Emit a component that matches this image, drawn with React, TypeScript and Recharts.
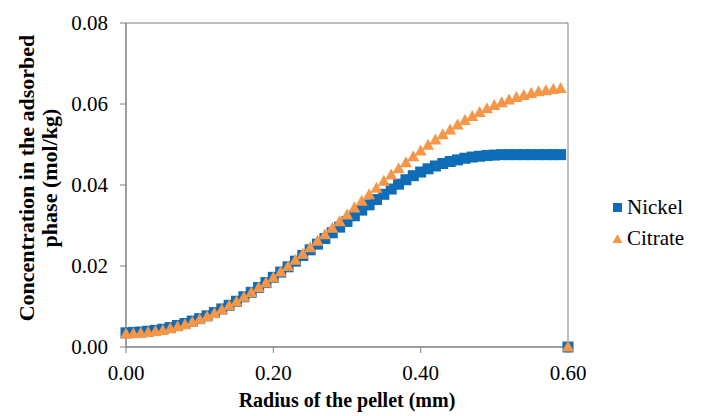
import React from 'react';
import {
  ScatterChart, Scatter, XAxis, YAxis, ReferenceArea
} from 'recharts';

// radius of the pellet (mm)
const radius = [
  0.00, 0.01, 0.02, 0.03, 0.04, 0.05, 0.06, 0.07, 0.08, 0.09,
  0.10, 0.11, 0.12, 0.13, 0.14, 0.15, 0.16, 0.17, 0.18, 0.19,
  0.20, 0.21, 0.22, 0.23, 0.24, 0.25, 0.26, 0.27, 0.28, 0.29,
  0.30, 0.31, 0.32, 0.33, 0.34, 0.35, 0.36, 0.37, 0.38, 0.39,
  0.40, 0.41, 0.42, 0.43, 0.44, 0.45, 0.46, 0.47, 0.48, 0.49,
  0.50, 0.51, 0.52, 0.53, 0.54, 0.55, 0.56, 0.57, 0.58, 0.59,
  0.60,
];

// concentration in the adsorbed phase (mol/kg)
const nickel = [
  0.0035, 0.0036, 0.0037, 0.0039, 0.0041, 0.0044, 0.0048, 0.0053, 0.0058, 0.0064,
  0.0070, 0.0077, 0.0085, 0.0094, 0.0103, 0.0113, 0.0124, 0.0135, 0.0147, 0.0159,
  0.0172, 0.0185, 0.0198, 0.0212, 0.0226, 0.0240, 0.0254, 0.0268, 0.0282, 0.0296,
  0.0310, 0.0324, 0.0338, 0.0351, 0.0364, 0.0377, 0.0390, 0.0402, 0.0413, 0.0423,
  0.0432, 0.0440, 0.0447, 0.0453, 0.0458, 0.0462, 0.0466, 0.0469, 0.0471, 0.0473,
  0.0474, 0.0475, 0.0475, 0.0475, 0.0475, 0.0475, 0.0475, 0.0475, 0.0475, 0.0475,
  0.0,
];

const citrate = [
  0.0032, 0.0033, 0.0034, 0.0036, 0.0038, 0.0041, 0.0045, 0.0050, 0.0055, 0.0061,
  0.0068, 0.0075, 0.0083, 0.0092, 0.0102, 0.0112, 0.0123, 0.0134, 0.0146, 0.0158,
  0.0171, 0.0185, 0.0199, 0.0214, 0.0229, 0.0245, 0.0261, 0.0277, 0.0293, 0.0309,
  0.0326, 0.0343, 0.0360, 0.0376, 0.0392, 0.0409, 0.0425, 0.0440, 0.0455, 0.0470,
  0.0484, 0.0498, 0.0511, 0.0524, 0.0536, 0.0548, 0.0559, 0.0569, 0.0579, 0.0588,
  0.0596, 0.0603, 0.0610, 0.0616, 0.0621, 0.0626, 0.0630, 0.0633, 0.0636, 0.0638,
  0.0,
];

const xTicks = [0, 0.2, 0.4, 0.6];
const yTicks = [0, 0.02, 0.04, 0.06, 0.08];

const BLUE = '#0F6DB8';
const ORANGE = '#F79646';
const AXIS = '#7f7f7f';
const FONT = '"Liberation Serif", "Times New Roman", serif';

const nickelData = radius.map((r, i) => ({ x: r, y: nickel[i] }));
const citrateData = radius.map((r, i) => ({ x: r, y: citrate[i] }));

const SquareMark = (props: any) => {
  const { cx, cy } = props;
  if (cx == null || cy == null) return null;
  return <rect x={cx - 5.5} y={cy - 5.5} width={11} height={11} fill={BLUE} />;
};

const TriangleMark = (props: any) => {
  const { cx, cy } = props;
  if (cx == null || cy == null) return null;
  return (
    <polygon
      points={`${cx},${cy - 6.5} ${cx + 6},${cy + 4.5} ${cx - 6},${cy + 4.5}`}
      fill={ORANGE}
    />
  );
};

// legend sits to the right of the plot, outside the chart's layout
const LegendBox = () => (
  <div
    style={{
      position: 'absolute', left: 612, top: 192,
      fontFamily: FONT, fontSize: 21, color: '#000', lineHeight: '31px',
    }}
  >
    <div style={{ display: 'flex', alignItems: 'center' }}>
      <svg width={12} height={12} style={{ marginRight: 3 }}>
        <rect x={1} y={1} width={9} height={9} fill={BLUE} />
      </svg>
      Nickel
    </div>
    <div style={{ display: 'flex', alignItems: 'center' }}>
      <svg width={12} height={12} style={{ marginRight: 3 }}>
        <polygon points="5.5,1 10.5,10 0.5,10" fill={ORANGE} />
      </svg>
      Citrate
    </div>
  </div>
);

export default function App() {
  return (
    <div style={{ position: 'relative', width: 701, height: 416, background: '#fff' }}>
      <style>{'body { margin: 0; }'}</style>
      <ScatterChart
        width={701}
        height={416}
        margin={{ top: 23, right: 133, left: 0, bottom: 0 }}
      >
        <XAxis
          type="number"
          dataKey="x"
          domain={[0, 0.6]}
          ticks={xTicks}
          tickFormatter={(v: number) => v.toFixed(2)}
          height={69}
          tickSize={6}
          tickMargin={12}
          stroke={AXIS}
          tick={{ fill: '#000', fontSize: 21, fontFamily: FONT }}
          label={{
            content: () => (
              <text
                x={347}
                y={407}
                textAnchor="middle"
                fontFamily={FONT}
                fontSize={20}
                fontWeight="bold"
                fill="#000"
              >
                Radius of the pellet (mm)
              </text>
            ),
          }}
        />
        <YAxis
          type="number"
          dataKey="y"
          domain={[0, 0.08]}
          ticks={yTicks}
          tickFormatter={(v: number) => v.toFixed(2)}
          width={126}
          tickSize={6}
          tickMargin={12}
          stroke={AXIS}
          tick={{ fill: '#000', fontSize: 21, fontFamily: FONT }}
          label={{
            content: () => (
              <g fontFamily={FONT} fontSize={22} fontWeight="bold" fill="#000">
                <text x={34} y={178} textAnchor="middle" transform="rotate(-90 34 178)">
                  Concentration in the adsorbed
                </text>
                <text x={57} y={178} textAnchor="middle" transform="rotate(-90 57 178)">
                  phase (mol/kg)
                </text>
              </g>
            ),
          }}
        />
        <ReferenceArea
          x1={0}
          x2={0.6}
          y1={0}
          y2={0.08}
          fill="none"
          stroke={AXIS}
          strokeWidth={1}
        />
        <Scatter
          name="Nickel"
          data={nickelData}
          shape={SquareMark}
          fill={BLUE}
          isAnimationActive={false}
        />
        <Scatter
          name="Citrate"
          data={citrateData}
          shape={TriangleMark}
          fill={ORANGE}
          isAnimationActive={false}
        />
      </ScatterChart>
      <LegendBox />
    </div>
  );
}
